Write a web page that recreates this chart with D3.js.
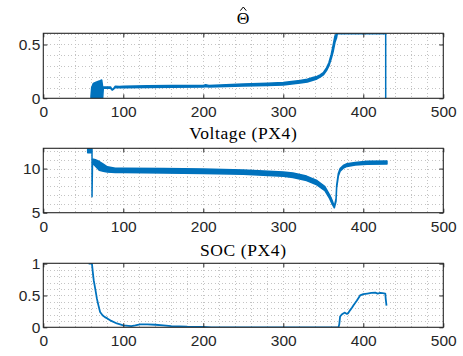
<!DOCTYPE html>
<html>
<head>
<meta charset="utf-8">
<script src="https://cdn.jsdelivr.net/npm/d3@7"></script>
<style>
  html, body { margin: 0; padding: 0; background: #fff; }
  svg { display: block; }
  .tick text { font-family: "Liberation Sans", Arial, sans-serif; font-size: 15.5px; fill: #262626; }
  .title { font-family: "Liberation Serif", "Times New Roman", serif; font-size: 17.5px; fill: #000; letter-spacing: 0.6px; }
</style>
</head>
<body>
<svg id="chart" width="463" height="356"></svg>
<script>
// ---- shared x axis ----
const xTicks = [0, 100, 200, 300, 400, 500];

// ---- panel 1: estimated Theta (envelope of a noisy signal: low / high) ----
const thetaX  = [59.6, 60.5, 62.6, 66, 70, 73, 74.2, 75, 80, 84, 86, 88, 90, 95, 100, 130, 160, 200, 203, 207, 250, 280, 300, 321, 330, 337, 342, 346, 350, 354, 357, 360, 362.5, 364.6, 366.5, 367.5, 428, 428];
const thetaLo = [0, 0, 0, 0, 0, 0, 0, 0.093, 0.093, 0.093, 0.076, 0.086, 0.101, 0.099, 0.099, 0.101, 0.102, 0.106, 0.11, 0.106, 0.115, 0.12, 0.124, 0.142, 0.152, 0.167, 0.18, 0.197, 0.217, 0.258, 0.3, 0.37, 0.44, 0.52, 0.56, 0.6, 0.6, 0];
const thetaHi = [0.02, 0.1, 0.139, 0.15, 0.16, 0.17, 0.106, 0.106, 0.106, 0.106, 0.08, 0.094, 0.112, 0.11, 0.113, 0.116, 0.118, 0.12, 0.126, 0.12, 0.134, 0.14, 0.146, 0.166, 0.178, 0.193, 0.203, 0.218, 0.238, 0.283, 0.33, 0.41, 0.5, 0.58, 0.6, 0.6, 0.6, 0];
const thetaTicks = [0, 0.5];
const thetaMinor = [0.1, 0.2, 0.3, 0.4, 0.5, 0.6];

// ---- panel 2: voltage (low / high of the noisy trace) ----
const voltX  = [55.5, 60.5, 60.9, 60.9, 61.5, 65, 70, 75, 80, 90, 100, 150, 200, 250, 300, 312, 329, 342, 352, 358, 361, 363.8, 365.9, 366.7, 368.8, 371, 375, 379.6, 390, 404.6, 429.6];
const voltLo = [11.8, 11.8, 11.8, 6.8, 10.6, 10.3, 9.8, 9.7, 9.6, 9.55, 9.55, 9.5, 9.45, 9.35, 9.12, 9.0, 8.65, 8.15, 7.5, 6.6, 6.0, 5.55, 6.3, 7.8, 9.15, 9.7, 10.05, 10.25, 10.4, 10.5, 10.52];
const voltHi = [12.4, 12.4, 12.4, 6.8, 11.1, 11.0, 10.8, 10.5, 10.2, 10.05, 10.05, 10.0, 9.95, 9.85, 9.62, 9.5, 9.15, 8.65, 7.95, 7.0, 6.4, 5.7, 6.6, 8.1, 9.45, 10.0, 10.35, 10.55, 10.7, 10.82, 10.85];
const voltTicks = [5, 10];
const voltMinor = [6, 7, 8, 9, 10, 11, 12];

// ---- panel 3: state of charge ----
const socX = [56.7, 60.8, 62, 63, 65, 67, 69, 71, 74, 77, 80, 85, 92, 100, 110, 115, 121, 130, 140, 150, 160, 170, 180, 190, 200, 210, 369, 370, 371, 373, 375.4, 377, 379.6, 381, 383.6, 386, 388, 392, 396, 400, 405, 410, 415, 418, 421, 424, 427.5, 428, 429];
const socY = [1.0, 1.0, 0.85, 0.74, 0.6, 0.45, 0.34, 0.24, 0.19, 0.16, 0.14, 0.1, 0.06, 0.03, 0.02, 0.03, 0.047, 0.045, 0.04, 0.03, 0.02, 0.015, 0.01, 0.008, 0.005, 0, 0, 0.05, 0.17, 0.2, 0.22, 0.23, 0.21, 0.22, 0.27, 0.31, 0.35, 0.42, 0.5, 0.52, 0.53, 0.54, 0.545, 0.53, 0.54, 0.535, 0.53, 0.45, 0.34];
const socTicks = [0, 0.5, 1];
const socMinor = [0.1, 0.2, 0.3, 0.4, 0.5, 0.6, 0.7, 0.8, 0.9];

const xMinor = d3.range(20, 500, 20);

const BLUE = "#0072BD";
const AX = "#262626";
const left = 43.3, right = 443.3;

const svg = d3.select("#chart");
const x = d3.scaleLinear().domain([0, 500]).range([left, right]);

const panels = [
  { title: "\u0398", hat: true, top: 33.3, bottom: 98.3, domain: [0, 0.604], ticks: thetaTicks, minor: thetaMinor, titleY: 24,
    band: { x: thetaX, lo: thetaLo, hi: thetaHi } },
  { title: "Voltage (PX4)", top: 148.3, bottom: 212.7, domain: [5, 12.3], ticks: voltTicks, minor: voltMinor, titleY: 138.5,
    band: { x: voltX, lo: voltLo, hi: voltHi } },
  { title: "SOC (PX4)", top: 263.3, bottom: 327.3, domain: [0, 1.005], ticks: socTicks, minor: socMinor, titleY: 255.5,
    line: { x: socX, y: socY } }
];

panels.forEach((p, i) => {
  const y = d3.scaleLinear().domain(p.domain).range([p.bottom, p.top]);
  const g = svg.append("g");

  // dotted grid (every 20 in x, minor steps in y)
  const grid = g.append("g").attr("stroke", "#c4c4c4").attr("stroke-width", 1)
    .attr("stroke-dasharray", "1,2.5").attr("shape-rendering", "crispEdges");
  grid.selectAll("line.v").data(xMinor).join("line")
    .attr("x1", d => Math.round(x(d)) + 0.5).attr("x2", d => Math.round(x(d)) + 0.5)
    .attr("y1", p.top).attr("y2", p.bottom);
  grid.selectAll("line.h").data(p.minor).join("line")
    .attr("y1", d => Math.round(y(d)) + 0.5).attr("y2", d => Math.round(y(d)) + 0.5)
    .attr("x1", left).attr("x2", right);

  // clip to plot box
  const clipId = "clip" + i;
  svg.append("clipPath").attr("id", clipId).append("rect")
    .attr("x", left).attr("y", p.top).attr("width", right - left).attr("height", p.bottom - p.top);

  const plot = g.append("g").attr("clip-path", `url(#${clipId})`);
  if (p.band) {
    const idx = d3.range(p.band.x.length);
    const area = d3.area()
      .x(k => x(p.band.x[k])).y0(k => y(p.band.lo[k])).y1(k => y(p.band.hi[k]));
    plot.append("path").attr("d", area(idx))
      .attr("fill", BLUE).attr("stroke", BLUE).attr("stroke-width", 1.5).attr("stroke-linejoin", "round");
  }
  if (p.line) {
    const idx = d3.range(p.line.x.length);
    const line = d3.line().x(k => x(p.line.x[k])).y(k => y(p.line.y[k]));
    plot.append("path").attr("d", line(idx))
      .attr("fill", "none").attr("stroke", BLUE).attr("stroke-width", 1.8).attr("stroke-linejoin", "round");
  }

  // axes with inward ticks on all four sides
  const xa = g.append("g").attr("transform", `translate(0,${p.bottom})`)
    .call(d3.axisBottom(x).tickValues(xTicks).tickSize(-4).tickPadding(8));
  const xt = g.append("g").attr("transform", `translate(0,${p.top})`)
    .call(d3.axisTop(x).tickValues(xTicks).tickSize(-4).tickFormat(""));
  const ya = g.append("g").attr("transform", `translate(${left},0)`)
    .call(d3.axisLeft(y).tickValues(p.ticks).tickSize(-4).tickPadding(3).tickFormat(d3.format("")));
  const yr = g.append("g").attr("transform", `translate(${right},0)`)
    .call(d3.axisRight(y).tickValues(p.ticks).tickSize(-4).tickFormat(""));
  [xa, xt, ya, yr].forEach(a => {
    a.select(".domain").remove();
    a.selectAll(".tick line").attr("stroke", AX);
  });
  xa.selectAll(".tick text").attr("fill", AX);
  ya.selectAll(".tick text").attr("fill", AX);

  // box
  g.append("rect").attr("x", left).attr("y", p.top)
    .attr("width", right - left).attr("height", p.bottom - p.top)
    .attr("fill", "none").attr("stroke", AX).attr("stroke-width", 1.1);

  // title
  const cx = (left + right) / 2;
  svg.append("text").attr("class", "title")
    .attr("x", cx).attr("y", p.titleY)
    .attr("text-anchor", "middle").text(p.title);
  if (p.hat) {
    // circumflex accent above the symbol
    svg.append("path")
      .attr("d", `M${cx - 3},${p.titleY - 13.3} L${cx},${p.titleY - 17} L${cx + 3},${p.titleY - 13.3}`)
      .attr("fill", "none").attr("stroke", "#000").attr("stroke-width", 1)
      .attr("stroke-linejoin", "miter");
  }
});
</script>
</body>
</html>
